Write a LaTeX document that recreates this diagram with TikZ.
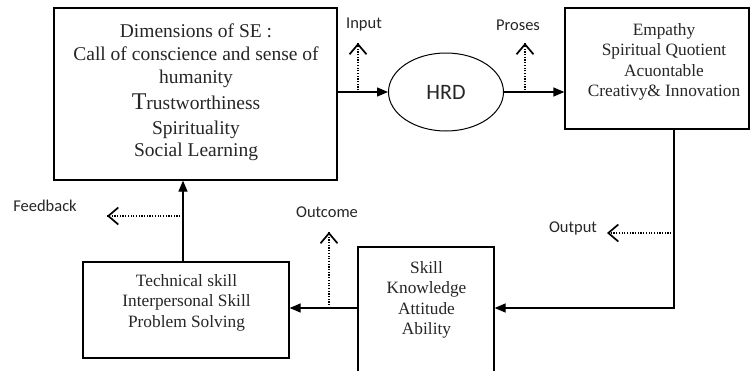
\documentclass[tikz,border=0pt]{standalone}
\usepackage{fontspec}
\setmainfont{Liberation Serif}
\newfontfamily\lblfont{Carlito}
\usetikzlibrary{arrows.meta,shapes.geometric,calc}
\begin{document}
\begin{tikzpicture}[x=1pt,y=-1pt,
  box/.style={draw=black,line width=1.3pt,rectangle,inner sep=0pt},
  serifA/.style={align=center,font=\fontsize{19.5}{22.6}\selectfont,text=black!85,inner sep=0pt,anchor=north},
  serifB/.style={align=center,font=\fontsize{17.3}{20.5}\selectfont,text=black!85,inner sep=0pt,anchor=north},
  flow/.style={line width=1.3pt,-{Triangle[length=11pt,width=9pt]}},
  dotline/.style={line width=1.2pt,dash pattern=on 1.2pt off 1.5pt},
  barb/.style={line width=1.7pt,-{Straight Barb[length=10pt,width=17pt]}},
  lbl/.style={font=\lblfont\fontsize{16.5}{18}\selectfont,text=black!85,inner sep=0pt}]
\clip (0,0) rectangle (752,370);
\fill[white] (0,0) rectangle (752,370);
% boxes
\node[box,minimum width=283pt,minimum height=172pt] (b1) at (195.5,94) {};
\node[box,minimum width=184pt,minimum height=121pt] (emp) at (657,68.5) {};
\node[box,minimum width=136pt,minimum height=138pt] (skill) at (426,316) {};
\node[box,minimum width=206pt,minimum height=96pt] (tech) at (186,310) {};
\node[draw=black,line width=1pt,ellipse,minimum width=115pt,minimum height=78pt,inner sep=0pt,
      font=\lblfont\fontsize{22}{24}\selectfont,text=black!85] (hrd) at (446,92) {HRD};
% box texts
\node[serifA] (t1) at (196,24) {Dimensions of SE :\\Call of conscience and sense of\\humanity\\[4pt]{\fontsize{24}{26}\selectfont T}rustworthiness\\[2pt]Spirituality\\Social Learning};
\node[serifB] (t2) at (664,23) {Empathy\\Spiritual Quotient\\Acuontable\\Creativy\& Innovation};
\node[serifB] (t3) at (186.5,274) {Technical skill\\Interpersonal Skill\\Problem Solving};
\node[serifB] (t4) at (426.5,261) {Skill\\Knowledge\\Attitude\\Ability};
% labels
\node[lbl] (lin) at (364,25) {Input};
\node[lbl] (lpr) at (518,25) {Proses};
\node[lbl] (lout) at (573,228) {Output};
\node[lbl] (loc) at (327,212) {Outcome};
\node[lbl] (lfb) at (45,206) {Feedback};
% helper coordinates
\coordinate (c1) at (674,308);
\coordinate (c2) at (183,0);
\coordinate (inS) at (358,93);  \coordinate (inT) at (358,43);
\coordinate (prS) at (525,93);  \coordinate (prT) at (525,43);
\coordinate (ocS) at (329,308); \coordinate (ocT) at (329,232);
\coordinate (fbS) at (183,216); \coordinate (fbT) at (107,216);
\coordinate (otS) at (674,233); \coordinate (otT) at (607,233);
% solid flow
\draw[flow] (b1.east |- hrd.west) -- (hrd.west);
\draw[flow] (hrd.east) -- (emp.west |- hrd.east);
\draw[flow] (emp.south -| c1) -- (c1) -- (skill.east |- c1);
\draw[flow] (skill.west |- c1) -- (tech.east |- c1);
\draw[flow] (tech.north -| c2) -- (b1.south -| c2);
% dotted arrows (dotted shaft, solid open head)
\foreach \s/\t in {inS/inT,prS/prT,ocS/ocT,fbS/fbT,otS/otT}{
  \draw[dotline] (\s) -- (\t);
  \draw[barb] ($(\t)!0.6pt!(\s)$) -- (\t);
}
\end{tikzpicture}
\end{document}
